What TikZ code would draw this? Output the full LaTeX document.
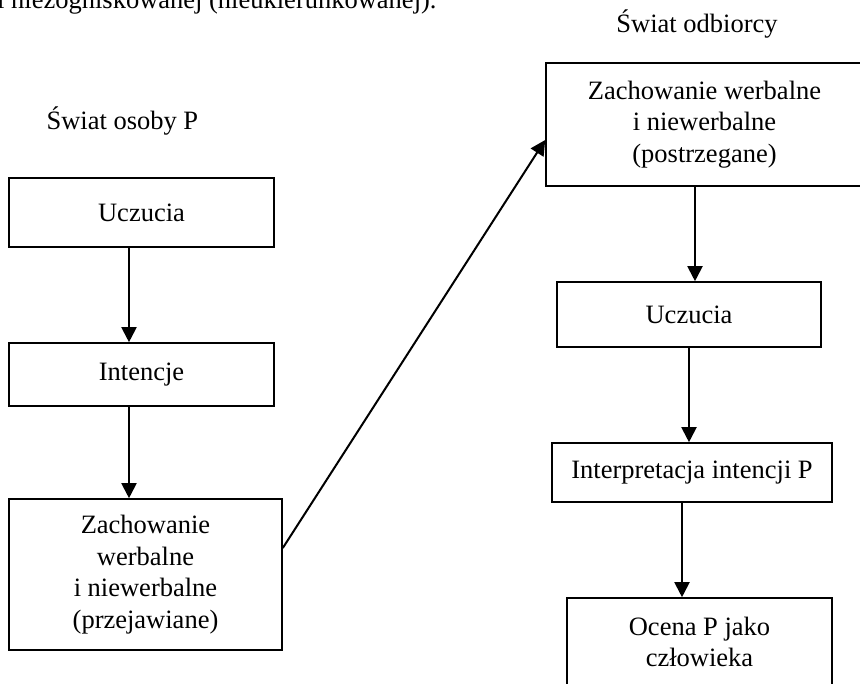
\documentclass[tikz,border=0pt]{standalone}
\usepackage{fontspec}
\setmainfont{Liberation Serif}
\usepackage{tikz}
\usetikzlibrary{calc,positioning,arrows.meta}

\begin{document}
\begin{tikzpicture}[x=1pt, y=-1pt, arr/.style={line width=2pt, -{Triangle[length=15pt, width=15pt]}}, font=\fontsize{26.5}{31.5}\selectfont]
\tikzstyle{box}=[draw, line width=1.6pt, align=center, inner sep=0pt]
\useasboundingbox (0,0) rectangle (860,684);
\node[anchor=base west, inner sep=0pt] (top) at (-3,9) {i niezogniskowanej (nieukierunkowanej).};
\node[anchor=base west] (swP) at (43,130) {Świat osoby P};
\node[anchor=base] (swO) at (697,33) {Świat odbiorcy};
% swiat osoby P
\node[box, minimum width=265pt, minimum height=69pt] (uL) at (141.5,212.5) {Uczucia};
\node[box, minimum width=265pt, minimum height=63pt] (iL) at (141.5,374.5) {Intencje};
\node[box, minimum width=273pt, minimum height=151pt] (zL) at (145.5,574.5) {Zachowanie\\werbalne\\i niewerbalne\\(przejawiane)};
% swiat odbiorcy
\node[box, minimum width=317pt, minimum height=123pt] (zR) at (704.5,124.5) {Zachowanie werbalne\\i niewerbalne\\(postrzegane)};
\node[box, minimum width=264pt, minimum height=65pt] (uR) at (689,314.5) {Uczucia};
\node[box, minimum width=280pt, minimum height=59pt] (iR) at (692,472.5) {Interpretacja intencji P};
\node[box, minimum width=265pt, minimum height=88pt] (oR) at (699.5,642) {Ocena P jako\\człowieka};
\draw[arr] ([xshift=-12.5pt]uL.south) -- ([xshift=-12.5pt]iL.north);
\draw[arr] ([xshift=-12.5pt]iL.south) -- ([xshift=-16.5pt]zL.north);
\draw[arr] ([yshift=26.5pt]zL.east) -- ([yshift=-15.5pt]zR.west);
\draw[arr] ([xshift=-9.5pt]zR.south) -- ([xshift=6pt]uR.north);
\draw[arr] (uR.south) -- ([xshift=-3pt]iR.north);
\draw[arr] ([xshift=-10pt]iR.south) -- ([xshift=-17.5pt]oR.north);
\end{tikzpicture}
\end{document}
